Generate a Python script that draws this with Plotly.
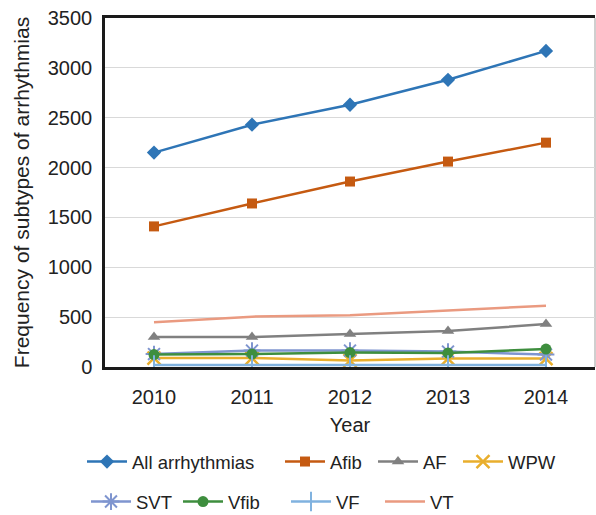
import plotly.graph_objects as go

years = [2010, 2011, 2012, 2013, 2014]
all_arr = [2150, 2430, 2630, 2880, 3170]
afib = [1410, 1640, 1860, 2060, 2250]
af = [300, 300, 330, 360, 430]
wpw = [90, 90, 65, 85, 85]
svt = [130, 165, 165, 155, 125]
vfib = [125, 130, 145, 140, 180]
vf = [20, 20, 20, 20, 20]
vt = [450, 505, 520, 565, 615]

FONT = "Liberation Sans, Arial, sans-serif"
L, R, T, B = 105, 1, 18, 148
W, H = 596, 515

series = [
    ("All arrhythmias", all_arr, "#2e75b6", dict(symbol="diamond", size=11), 133, 462),
    ("Afib", afib, "#c55a11", dict(symbol="square", size=10), 331, 462),
    ("AF", af, "#808080", dict(symbol="triangle-up", size=11), 424, 462),
    ("WPW", wpw, "#e9ae2c", dict(symbol="x-thin", size=13, line=dict(width=2.5, color="#e9ae2c")), 509, 462),
    ("SVT", svt, "#7f95cf", dict(symbol="asterisk", size=14, line=dict(width=2, color="#7f95cf")), 137, 502),
    ("Vfib", vfib, "#3e8e3e", dict(symbol="circle", size=11), 229, 502),
    ("VF", vf, "#80b2df", dict(symbol="line-ns", size=14, line=dict(width=2, color="#80b2df")), 337, 502),
    ("VT", vt, "#ea9a80", None, 431, 502),
]

TEXT_OFFSET = 51  # distance from legend left to text start

fig = go.Figure()
layout_legends = {}
for i, (name, vals, color, marker, tx, ly) in enumerate(series):
    key = "legend" if i == 0 else f"legend{i+1}"
    kw = dict(x=years, y=vals, name=name, line=dict(color=color, width=2.5),
              legend=key, hoverinfo="x+y+name")
    if marker is None:
        kw["mode"] = "lines"
    else:
        m = dict(marker)
        m["color"] = color
        kw["mode"] = "lines+markers"
        kw["marker"] = m
    fig.add_trace(go.Scatter(**kw))
    layout_legends[key] = dict(
        xref="container", yref="container",
        x=(tx - TEXT_OFFSET) / W, y=1 - ly / H, xanchor="left", yanchor="middle",
        orientation="h", bgcolor="rgba(0,0,0,0)", borderwidth=0,
        font=dict(family=FONT, size=18.5, color="#222222"),
        itemwidth=40,
    )

fig.update_layout(
    width=W, height=H,
    margin=dict(l=L, r=R, t=T, b=B, pad=0, autoexpand=False),
    paper_bgcolor="white", plot_bgcolor="white",
    font=dict(family=FONT, color="#222222"),
    showlegend=True,
    **layout_legends,
)
fig.update_xaxes(
    range=[2009.5, 2014.5], tickvals=years, ticktext=[str(y) for y in years],
    showgrid=False, zeroline=False, automargin=False,
    showline=True, linecolor="#1a1a1a", linewidth=2.5, mirror=True,
    ticks="", ticklabelstandoff=10,
    tickfont=dict(family=FONT, size=20, color="#222222"),
    title=dict(text="Year", font=dict(family=FONT, size=20, color="#222222"), standoff=12),
)
fig.update_yaxes(
    range=[0, 3500], dtick=500, tick0=0,
    showgrid=True, gridcolor="#d9d9d9", gridwidth=1, zeroline=False, automargin=False,
    showline=True, linecolor="#1a1a1a", linewidth=2.5,
    ticks="", ticklabelstandoff=6,
    tickfont=dict(family=FONT, size=20, color="#222222"),
    title=dict(text="Frequency of subtypes of arrhythmias",
               font=dict(family=FONT, size=21, color="#222222"), standoff=13),
)
fig.add_shape(type="line", xref="paper", yref="paper", x0=1, x1=1, y0=0, y1=1,
              line=dict(color="#bfbfbf", width=1.5), layer="below")

fig.write_html("out.html", config={"displayModeBar": False},
               post_script="document.body.style.margin='0';document.body.style.overflow='hidden';")
